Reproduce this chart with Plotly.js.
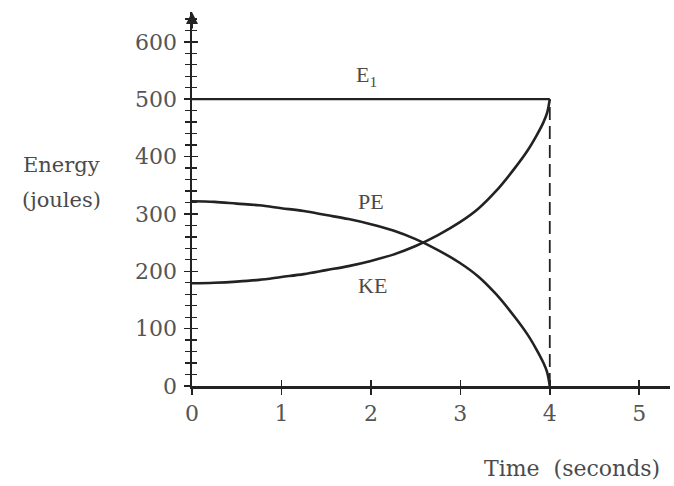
<!DOCTYPE html>
<html>
<head>
<meta charset="utf-8">
<script src="https://cdn.plot.ly/plotly-3.0.1.min.js"></script>
<style>html,body{margin:0;padding:0;background:#fff;}#chart{width:674px;height:486px;}</style>
</head>
<body>
<div id="chart"></div>
<script>
// Data
const time = [0, 0.25, 0.5, 0.75, 1, 1.25, 1.5, 1.75, 2, 2.25, 2.5, 2.75, 3, 3.2, 3.4, 3.6, 3.75, 3.85, 3.93, 3.97, 4.0];
const potentialEnergy = [322, 321, 318, 315, 310, 305, 298, 291, 282, 271, 256, 237, 214, 191, 160, 122, 90, 64, 40, 24, 0];
const kineticEnergy = [179, 180, 182, 185, 190, 195, 202, 209, 218, 229, 244, 263, 286, 309, 340, 378, 410, 436, 460, 476, 500];
const totalTime = [0, 4];
const totalEnergy = [500, 500];
const endTime = [4, 4];
const endRange = [0, 500];
const xTicks = [0, 1, 2, 3, 4, 5];
const yTicks = [0, 100, 200, 300, 400, 500, 600];

const ink = '#222';
const textCol = '#4a4a4a';
const tickFont = {family: 'DejaVu Serif', size: 22, color: '#555'};
const xRange = [0, 5.344];
const yRange = [0, 652];

const traces = [
  {x: totalTime, y: totalEnergy, mode: 'lines', line: {color: ink, width: 2.2}, cliponaxis: false, hoverinfo: 'skip'},
  {x: endTime, y: endRange, mode: 'lines', line: {color: ink, width: 1.8, dash: '13px,6px'}, cliponaxis: false, hoverinfo: 'skip'},
  {x: time, y: potentialEnergy, mode: 'lines', line: {color: ink, width: 2.6, shape: 'spline', smoothing: 1}, cliponaxis: false, hoverinfo: 'skip'},
  {x: time, y: kineticEnergy, mode: 'lines', line: {color: ink, width: 2.6, shape: 'spline', smoothing: 1}, cliponaxis: false, hoverinfo: 'skip'},
  {x: [null], y: [null], xaxis: 'x2', yaxis: 'y2', mode: 'lines', hoverinfo: 'skip'}
];

const layout = {
  width: 674, height: 486,
  margin: {l: 192, r: 4, t: 12, b: 100, pad: 0},
  paper_bgcolor: '#fff', plot_bgcolor: '#fff',
  showlegend: false,
  xaxis: {
    range: xRange, tickvals: xTicks, ticktext: xTicks.map(String),
    showline: true, linecolor: ink, linewidth: 2.5,
    ticks: 'outside', ticklen: 6, tickwidth: 1.5, tickcolor: ink,
    showgrid: false, zeroline: false, tickfont: tickFont, ticklabelstandoff: 0,
    fixedrange: true
  },
  yaxis: {
    range: yRange, tickvals: yTicks, ticktext: yTicks.map(String),
    showline: true, linecolor: ink, linewidth: 2.5,
    ticks: 'outside', ticklen: 6, tickwidth: 1.5, tickcolor: ink,
    minor: {ticks: 'outside', dtick: 20, tick0: 0, ticklen: 5, tickwidth: 1.3, tickcolor: ink, showgrid: false},
    showgrid: false, zeroline: false, tickfont: tickFont, ticklabelstandoff: 2,
    fixedrange: true
  },
  xaxis2: {
    range: xRange, overlaying: 'x', anchor: 'y', side: 'bottom',
    tickvals: xTicks, ticks: 'inside', ticklen: 6, tickwidth: 1.5, tickcolor: ink,
    showticklabels: false, showline: false, showgrid: false, zeroline: false, fixedrange: true
  },
  yaxis2: {
    range: yRange, overlaying: 'y', anchor: 'x', side: 'left',
    tickvals: yTicks, ticks: 'inside', ticklen: 6, tickwidth: 1.5, tickcolor: ink,
    minor: {ticks: 'inside', dtick: 20, tick0: 0, ticklen: 5, tickwidth: 1.3, tickcolor: ink, showgrid: false},
    showticklabels: false, showline: false, showgrid: false, zeroline: false, fixedrange: true
  },
  annotations: [
    {x: 0, y: yRange[1], xref: 'x', yref: 'y', text: '', showarrow: true, ax: 0, ay: 18,
     arrowhead: 2, arrowsize: 1.2, arrowwidth: 2, arrowcolor: ink, standoff: 0},
    {x: 1.95, y: 540, xref: 'x', yref: 'y', text: 'E<sub>1</sub>', showarrow: false,
     xanchor: 'center', yanchor: 'middle',
     font: {family: 'Liberation Serif', size: 22, color: textCol}},
    {x: 2.0, y: 321, xref: 'x', yref: 'y', text: 'PE', showarrow: false,
     xanchor: 'center', yanchor: 'middle',
     font: {family: 'Liberation Serif', size: 22, color: textCol}},
    {x: 2.02, y: 176, xref: 'x', yref: 'y', text: 'KE', showarrow: false,
     xanchor: 'center', yanchor: 'middle',
     font: {family: 'Liberation Serif', size: 22, color: textCol}},
    {x: -0.272, y: 0.591, xref: 'paper', yref: 'paper', text: 'Energy', showarrow: false,
     xanchor: 'center', yanchor: 'middle',
     font: {family: 'DejaVu Serif', size: 21, color: textCol}},
    {x: -0.272, y: 0.497, xref: 'paper', yref: 'paper', text: '(joules)', showarrow: false,
     xanchor: 'center', yanchor: 'middle',
     font: {family: 'DejaVu Serif', size: 21, color: textCol}},
    {x: 0.794, y: -0.221, xref: 'paper', yref: 'paper', text: 'Time&nbsp; (seconds)', showarrow: false,
     xanchor: 'center', yanchor: 'middle',
     font: {family: 'DejaVu Serif', size: 22, color: textCol}}
  ]
};

Plotly.newPlot('chart', traces, layout, {staticPlot: true, displayModeBar: false});
</script>
</body>
</html>
